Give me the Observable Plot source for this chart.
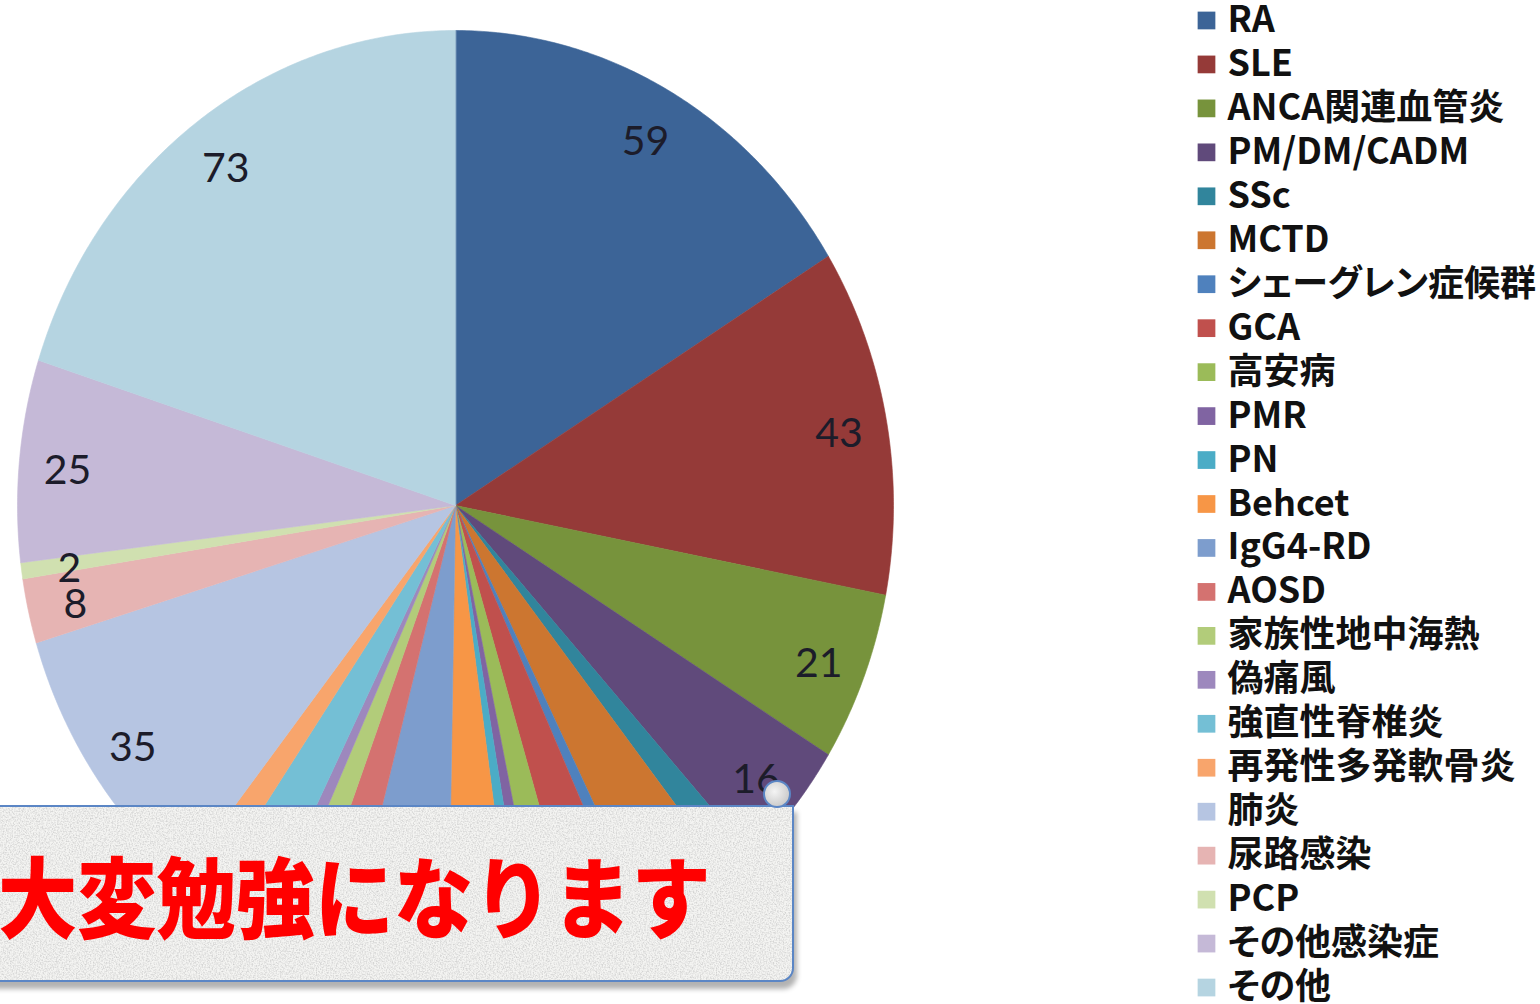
<!DOCTYPE html>
<html><head><meta charset="utf-8">
<script src="https://cdn.jsdelivr.net/npm/d3@7"></script>
<script src="https://cdn.jsdelivr.net/npm/@observablehq/plot@0.6"></script>
<style>
html,body{margin:0;padding:0;background:#fff;}
#wrap{position:relative;width:1540px;height:1004px;overflow:hidden;background:#fff;}
#pie{position:absolute;left:0;top:0;}
#legend{position:absolute;left:1180px;top:0;}
#legend text{font-feature-settings:"palt";}
#box{position:absolute;left:-20px;top:805px;width:810px;height:173px;border:2px solid #5b86c5;border-radius:0 0 14px 0;
 background-color:#f4f4f2;
 background-image:url("data:image/svg+xml;utf8,<svg xmlns='http://www.w3.org/2000/svg' width='400' height='200'><filter id='n'><feTurbulence type='fractalNoise' baseFrequency='0.7' numOctaves='2' seed='3'/><feColorMatrix values='0 0 0 0 0.55  0 0 0 0 0.55  0 0 0 0 0.55  1.6 0 0 0 -0.62'/></filter><rect width='100%' height='100%' filter='url(%23n)'/></svg>");
 box-shadow:3px 7px 5px rgba(0,0,0,0.30);z-index:5;}
#boxtext{position:absolute;left:16px;top:36px;font-family:"Noto Sans CJK JP",sans-serif;font-weight:900;font-size:88px;line-height:100px;color:#ff0000;white-space:nowrap;transform:scaleX(0.9);transform-origin:0 50%;}
#curl{position:absolute;left:763px;top:780px;width:24px;height:24px;border-radius:50%;border:2px solid #5b86c5;background:radial-gradient(circle at 40% 40%,#f4f4f4,#bdbdbd);z-index:6;}
</style></head><body>
<div id="wrap"><div id="pie"></div><div id="legend"></div><div id="box"><div id="boxtext">大変勉強になります</div></div><div id="curl"></div></div>
<script>
const categories = ["RA","SLE","ANCA関連血管炎","PM/DM/CADM","SSc","MCTD","シェーグレン症候群","GCA","高安病","PMR","PN","Behcet","IgG4-RD","AOSD","家族性地中海熱","偽痛風","強直性脊椎炎","再発性多発軟骨炎","肺炎","尿路感染","PCP","その他感染症","その他"];
const values = [59,43,21,16,4,12,2,8,5,2,2,9,14,6,4,2,8,4,35,8,2,25,73];
const colors = ["#3c6497","#953a38","#77933c","#604a7b","#31859c","#cc7630","#4f81bd","#c0504d","#9bbb59","#8064a2","#4bacc6","#f79646","#7d9dcd","#d47270","#b2cc7a","#9d88bd","#74bfd5","#f8a56c","#b6c5e2","#e6b4b3","#d0e0b0","#c5b9d7","#b5d4e1"];
// slices whose value labels are visible (others lie under the callout box)
const labelledCats = ["RA","SLE","ANCA関連血管炎","PM/DM/CADM","肺炎","尿路感染","PCP","その他感染症","その他"];

const rows = categories.map((c, i) => ({cat: c, value: values[i]}));
const arcs = d3.pie().sort(null).value(d => d.value)(rows);
const step = Math.PI / 360;
const pts = arcs.flatMap(a => {
  const out = [{cat: a.data.cat, x: 0, y: 0}];
  const n = Math.max(2, Math.ceil((a.endAngle - a.startAngle) / step));
  for (let k = 0; k <= n; k++) {
    const t = a.startAngle + (a.endAngle - a.startAngle) * k / n;
    out.push({cat: a.data.cat, x: Math.sin(t), y: -Math.cos(t)});
  }
  return out;
});
const labelR = 0.89;
const labels = arcs.filter(a => labelledCats.includes(a.data.cat)).map(a => {
  const m = (a.startAngle + a.endAngle) / 2;
  return {x: labelR * Math.sin(m), y: -labelR * Math.cos(m), text: String(a.data.value)};
});

const pie = Plot.plot({
  width: 900, height: 1004, margin: 0,
  x: {domain: [-1, 1], range: [17, 893], axis: null},
  y: {domain: [-1, 1], range: [30, 980], axis: null},
  color: {domain: categories, range: colors},
  style: {fontFamily: "Lato, 'Noto Sans CJK JP', sans-serif", background: "transparent"},
  marks: [
    Plot.line(pts, {x: "x", y: "y", z: "cat", fill: "cat", stroke: "cat", strokeWidth: 0.6, curve: "linear-closed"}),
    Plot.text(labels, {x: "x", y: "y", text: "text", fontSize: 41, dy: 5, fill: "#1c1c2a"})
  ]
});
document.getElementById("pie").appendChild(pie);

const legend = Plot.plot({
  width: 360, height: 1004, margin: 0,
  y: {type: "band", domain: categories, range: [-2, 1009], padding: 0, round: false, axis: null},
  color: {domain: categories, range: colors},
  style: {fontFamily: "'Noto Sans CJK JP', sans-serif", background: "transparent"},
  marks: [
    Plot.dot(categories, {y: d => d, fill: d => d, symbol: "square", r: 10, frameAnchor: "left", dx: 26}),
    Plot.text(categories, {y: d => d, text: d => d, frameAnchor: "left", dx: 47, textAnchor: "start", fontSize: 36, fontWeight: "bold", fill: "#111"})
  ]
});
document.getElementById("legend").appendChild(legend);
</script>
</body></html>
